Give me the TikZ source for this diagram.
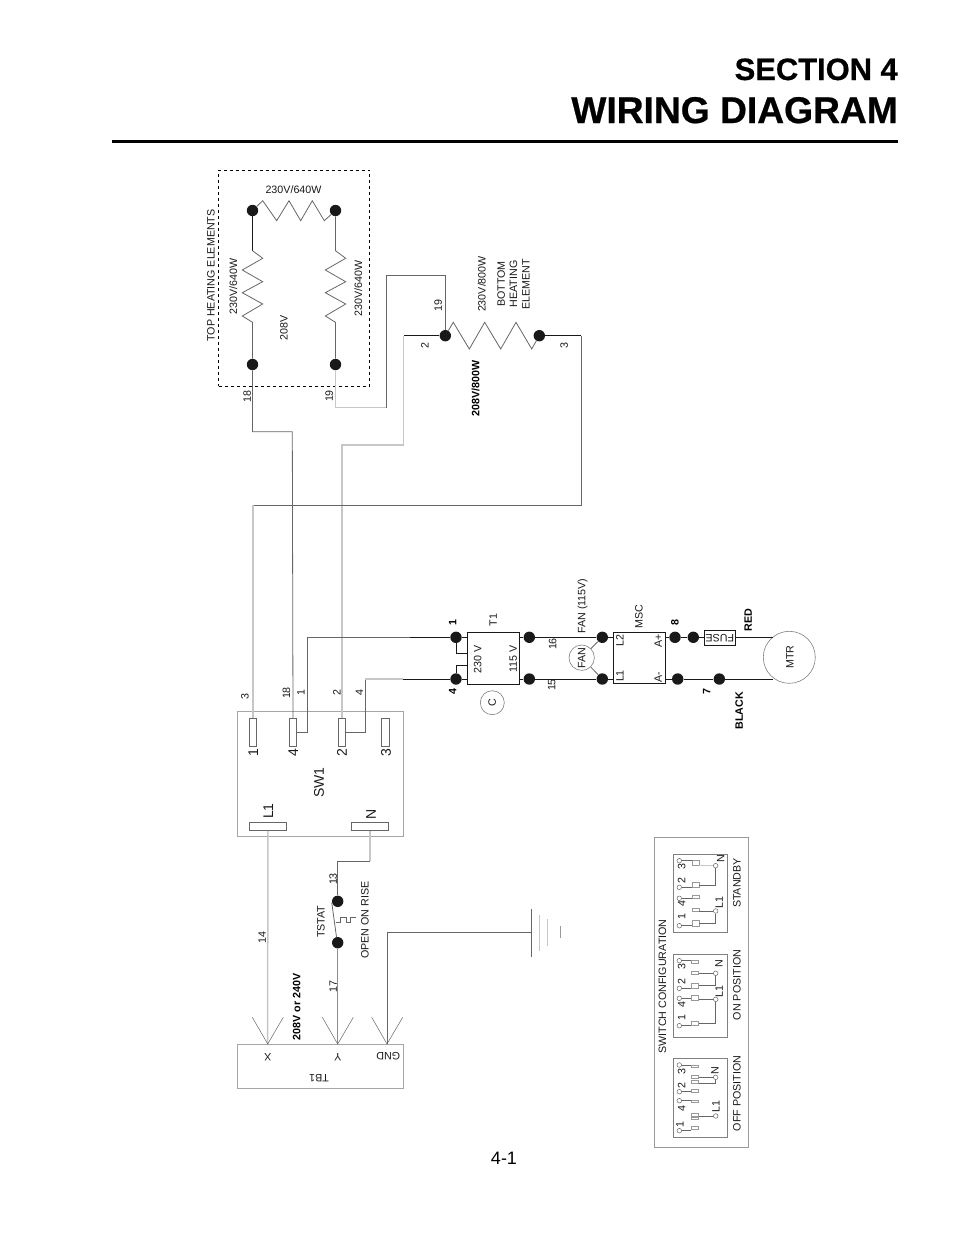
\documentclass[tikz,border=0pt]{standalone}
\usepackage{fontspec}
\setmainfont{Liberation Sans}
\newfontfamily\ttlfont[BoldFeatures={FakeBold=0.6}]{Liberation Sans}
\tikzset{
  wire/.style={draw=black!60,line width=0.8pt},
  pale/.style={draw=black!22,line width=1.5pt},
  dark/.style={draw=black!90,line width=0.9pt},
  blob/.style={circle,fill=black!90,inner sep=0pt,minimum size=11.4pt},
  ring/.style={circle,draw=black!60,line width=0.5pt,fill=white,inner sep=0pt,minimum size=4.6pt},
  box/.style={draw=black!60,line width=0.9pt,inner sep=0pt},
  blk/.style={draw=black!90,line width=0.9pt,inner sep=0pt},
  term/.style={box,fill=white},
  cont/.style={draw=black!40,line width=0.5pt,fill=white,inner sep=0pt,minimum width=7pt},
  lbl/.style={font=\fontsize{10.7}{12.4}\selectfont,text=black!90,inner sep=0pt,rotate=90,align=center},
  flat/.style={font=\fontsize{10.7}{12.4}\selectfont,text=black!90,inner sep=0pt,align=center},
  bld/.style={font=\fontsize{10.7}{12.4}\selectfont\bfseries,inner sep=0pt,rotate=90},
  big/.style={font=\fontsize{14}{16}\selectfont,text=black!90,inner sep=0pt,rotate=90},
}
\begin{document}
\begin{tikzpicture}[x=1pt,y=-1pt]
\useasboundingbox (0,0) rectangle (954,1235);
% heading
\node[anchor=base east,inner sep=0pt,font=\fontsize{30.9}{34}\selectfont\ttlfont\bfseries] (secttl) at (898,80) {SECTION 4};
\node[anchor=base east,inner sep=0pt,font=\fontsize{37.2}{40}\selectfont\ttlfont\bfseries] (wirttl) at (898,123) {WIRING DIAGRAM};
\coordinate (rulea) at (112,141.5);
\coordinate (ruleb) at (898,141.5);
\draw[line width=3pt] (rulea) -- (ruleb);
\node[inner sep=0pt,font=\fontsize{18}{20}\selectfont] (pageno) at (504,1158) {4-1};
% top heating elements
\node[draw=black,dashed,line width=0.7pt,inner sep=0pt,minimum width=151pt,minimum height=216pt] (topbox) at (294,278) {};
\node[blob] (topa) at (252.5,210.5) {};
\node[blob] (topb) at (335.5,210.5) {};
\node[blob] (topc) at (252.5,364.5) {};
\node[blob] (topd) at (335.5,364.5) {};
\draw[wire] (topa) -- (262.7,200.7) -- (276.7,220.7) -- (289,200.7) -- (300.7,220.7) -- (312.3,200.7) -- (324.3,220.7) -- (topb);
\draw[dark] (topa) -- (252.5,250.7);
\draw[wire] (252.5,250.7) -- (262.7,258.3) -- (242.3,270) -- (262.7,281.7) -- (242.3,292.7) -- (262.7,304) -- (242.3,316) -- (252.5,322.3) -- (topc);
\draw[wire] (topb) -- (335.5,250.7) -- (345.7,258.3) -- (325.3,270) -- (345.7,281.7) -- (325.3,292.7) -- (345.7,304) -- (325.3,316) -- (335.5,322.3) -- (topd);
\node[lbl] (topttl) at (211,275.5) {TOP HEATING ELEMENTS};
\node[flat] (toppw) at (293.5,189.5) {230V/640W};
\node[lbl] (leftpw) at (233.3,286.7) {230V/640W};
\node[lbl] (rightpw) at (358.3,288.3) {230V/640W};
\node[lbl] (midv) at (284,328.3) {208V};
% bottom heating element
\node[blob] (bota) at (445.3,335.7) {};
\node[blob] (botb) at (539.3,335.7) {};
\draw[wire] (bota) -- (453.3,322.3) -- (469.3,349) -- (484.7,322.3) -- (500.7,349) -- (516,322.3) -- (531.7,349) -- (botb);
\node[lbl] (botpw) at (481.7,284) {230V/800W};
\node[lbl] (botttl) at (513.5,284) {BOTTOM\\HEATING\\ELEMENT};
\node[bld] (botalt) at (475.7,388.3) {208V/800W};
% switch
\node[box,draw=black!35,minimum width=166pt,minimum height=125pt] (swbox) at (320.3,773.5) {};
\node[term,minimum width=7.4pt,minimum height=28pt] (swa) at (253,732.3) {};
\node[term,minimum width=7.4pt,minimum height=28pt] (swd) at (293,732.3) {};
\node[term,minimum width=7.4pt,minimum height=28pt] (swb) at (342,732.3) {};
\node[term,minimum width=7.4pt,minimum height=28pt] (swc) at (385.3,732.3) {};
\node[term,minimum width=37pt,minimum height=8.4pt] (swl) at (267.8,826.5) {};
\node[term,minimum width=37pt,minimum height=8.4pt] (swn) at (369.8,826.5) {};
\node[big] (swlba) at (253.3,752.5) {1};
\node[big] (swlbd) at (293.3,752.5) {4};
\node[big] (swlbb) at (342,752.5) {2};
\node[big] (swlbc) at (386,752.5) {3};
\node[big] (swttl) at (319,782.7) {SW1};
\node[big] (swlbl) at (268.3,811) {L1};
\node[big] (swlbn) at (371,814) {N};
% wires from the switch to the heaters
\draw[wire] (topc) -- (252.5,431.7) -- (292.3,431.7) -- (swd.north);
\draw[pale] (topd) -- (335.5,407.7) -- (386,407.7);
\draw[wire] (386,407.7) -- (386,275) -- (445.3,275) -- (bota);
\draw[dark] (bota) -- (403.7,335.7);
\draw[pale] (403.7,335.7) -- (403.7,445) -- (342,445) -- (swb.north);
\draw[dark] (botb) -- (581,335.7);
\draw[wire] (581,335.7) -- (581,505) -- (253,505);
\draw[pale] (253,505) -- (swa.north);
\node[lbl] (wa) at (247.3,396.7) {18};
\node[lbl] (wb) at (329.3,396) {19};
\node[lbl] (wc) at (438.3,305.7) {19};
\node[lbl] (wd) at (425,345.3) {2};
\node[lbl] (we) at (564.3,345.3) {3};
\node[lbl] (wf) at (245,697) {3};
\node[lbl] (wg) at (286.5,693) {18};
\node[lbl] (wh) at (301,693) {1};
\node[lbl] (wi) at (337,693) {2};
\node[lbl] (wj) at (359.5,693) {4};
% transformer, fan, speed control, motor
\node[blk,minimum width=52pt,minimum height=52pt] (trf) at (493.3,658.3) {};
\node[blk,minimum width=52pt,minimum height=51pt] (msc) at (639.3,657.8) {};
\node[blob] (rta) at (456,637.3) {};
\node[blob] (rba) at (456,679) {};
\node[blob] (rtb) at (529.3,637.3) {};
\node[blob] (rbb) at (529.3,679) {};
\node[blob] (rtc) at (602.3,637.3) {};
\node[blob] (rbc) at (602.3,679) {};
\node[blob] (rtd) at (675,637.3) {};
\node[blob] (rte) at (693.3,637.3) {};
\node[blob] (rbd) at (677.7,679) {};
\node[blob] (rbe) at (719.3,679) {};
\node[blk,minimum width=30.4pt,minimum height=15.4pt] (fuse) at (719.8,637.7) {};
\node[circle,draw=black!50,line width=0.6pt,inner sep=0pt,minimum size=52pt] (mtr) at (789.3,657.3) {};
\node[circle,draw=black!50,line width=0.6pt,inner sep=0pt,minimum size=25.4pt] (fan) at (581.7,657.7) {};
\node[circle,draw=black!50,line width=0.6pt,inner sep=0pt,minimum size=24pt] (cap) at (492.3,702.7) {};
\draw[wire] (swd.east |- 0,732.3) -- (307.7,732.3) -- (307.7,637.3) -- (410,637.3);
\draw[dark] (410,637.3) -- (rta);
\draw[wire] (swb.east |- 0,732.3) -- (365.3,732.3) -- (365.3,679);
\draw[pale] (365.3,679) -- (403,679);
\draw[dark] (403,679) -- (rba);
\draw[dark] (rta) -- (rta |- 0,653.3) -- (trf.west |- 0,653.3);
\draw[dark] (rba) -- (rba |- 0,665.3) -- (trf.west |- 0,665.3);
\draw[dark] (rta) -- (trf.west |- rta);
\draw[dark] (rba) -- (trf.west |- rba);
\draw[dark] (trf.east |- rtb) -- (rtb) -- (rtc) -- (msc.west |- rtc);
\draw[dark] (trf.east |- rbb) -- (rbb) -- (rbc) -- (msc.west |- rbc);
\draw[wire] (rtc) -- (fan);
\draw[wire] (rbc) -- (fan);
\draw[dark] (msc.east |- rtd) -- (rtd) -- (rte) -- (fuse.west |- rte);
\draw[dark] (msc.east |- rbd) -- (rbd) -- (rbe);
\draw[dark] (fuse.east |- rte) -- (773.3,637.3);
\draw[dark] (rbe) -- (773.3,679);
\node[bld] (rla) at (452.7,622.7) {1};
\node[bld] (rlb) at (452.7,691.7) {4};
\node[lbl] (trfttl) at (493.3,620) {T1};
\node[lbl] (trfhi) at (477.7,659.3) {230 V};
\node[lbl] (trflo) at (513.3,659.3) {115 V};
\node[lbl] (capl) at (492.3,702.7) {C};
\node[lbl] (rlc) at (552.7,644) {16};
\node[lbl] (rld) at (551.7,685) {15};
\node[lbl] (fanv) at (582.7,606) {FAN (115V)};
\node[lbl] (fanl) at (581.7,657.7) {FAN};
\node[lbl] (mscttl) at (639,616.7) {MSC};
\node[lbl] (msca) at (620,640.7) {L2};
\node[lbl] (mscb) at (620,676) {L1};
\node[lbl] (mscc) at (658.3,640.7) {A+};
\node[lbl] (mscd) at (658.3,677.3) {A-};
\node[bld] (rle) at (675,622.7) {8};
\node[bld] (rlf) at (706.7,691.7) {7};
\node[flat,rotate=180] (fusel) at (719.8,637.7) {FUSE};
\node[bld] (redl) at (748.3,620) {RED};
\node[bld] (blkl) at (739.3,710.7) {BLACK};
\node[lbl] (mtrl) at (790,657.3) {MTR};
% thermostat and terminal block
\node[blob] (tsa) at (337.7,901.3) {};
\node[blob] (tsb) at (337.7,942.7) {};
\node[box,draw=black!35,minimum width=166pt,minimum height=44pt] (tbox) at (320.3,1066) {};
\coordinate (tipx) at (267.7,1044);
\coordinate (tipy) at (337.7,1044);
\coordinate (tipg) at (387,1044);
\draw[pale] (swl.south) -- (tipx);
\draw[pale] (swn.south) -- (369.8,861);
\draw[wire] (369.8,861) -- (337.7,861) -- (tsa);
\draw[wire] (tsa) -- (tsa.west |- 0,903) -- (336.5,937);
\draw[wire] (335.7,922.3) -- (340.7,922.3) -- (340.7,917.3) -- (346.7,917.3) -- (346.7,922.3) -- (350.7,922.3) -- (350.7,917.3) -- (355.7,917.3);
\draw[wire] (336.5,937) -- (tsb);
\draw[pale,draw=black!45] (tsb) -- (tipy);
\draw[wire] (tipg) -- (387,932) -- (531.7,932);
\draw[wire,line width=0.5pt] (252.3,1017.3) -- (tipx) -- (283.3,1017.3);
\draw[wire,line width=0.5pt] (322.3,1017.3) -- (tipy) -- (353.3,1017.3);
\draw[wire,line width=0.5pt] (371.7,1017.3) -- (tipg) -- (402.7,1017.3);
\draw[wire] (531.7,909.3) -- (531.7,956.7);
\draw[pale,line width=1pt] (539.3,915) -- (539.3,950.7);
\draw[pale,line width=1pt] (547.7,919.3) -- (547.7,946);
\draw[pale,draw=black!40,line width=0.8pt] (560,926) -- (560,937.7);
\node[lbl] (wk) at (262.3,937.3) {14};
\node[lbl] (wl) at (333.3,879) {13};
\node[lbl] (wm) at (333.3,986.7) {17};
\node[lbl] (tsttl) at (321,921.7) {TSTAT};
\node[lbl] (tsnote) at (365,920) {OPEN ON RISE};
\node[bld] (tbv) at (296.7,1006.7) {208V or 240V};
\node[flat,rotate=180] (tbx) at (267.7,1057.3) {X};
\node[flat,rotate=180] (tby) at (337.7,1057.3) {Y};
\node[flat,rotate=180] (tbg) at (388.3,1056) {GND};
\node[flat,rotate=180] (tbttl) at (319,1078.3) {TB1};
% switch configuration
\node[box,draw=black!40,minimum width=94pt,minimum height=310pt] (cfgbox) at (701,992) {};
\node[box,draw=black!50,minimum width=54pt,minimum height=78pt] (sbbox) at (700.3,893) {};
\node[box,draw=black!50,minimum width=54pt,minimum height=83pt] (onbox) at (700.3,995.7) {};
\node[box,draw=black!50,minimum width=54pt,minimum height=79pt] (ofbox) at (700.3,1098) {};
\node[lbl] (cfgttl) at (662.5,986.5) {SWITCH CONFIGURATION};
\node[lbl] (sbttl) at (737,883) {STANDBY};
\node[lbl] (onttl) at (737,985) {ON POSITION};
\node[lbl] (ofttl) at (737,1093.3) {OFF POSITION};
% standby
\node[ring] (sbc3) at (679.3,860.7) {};
\node[ring] (sbc2) at (679.3,887.3) {};
\node[ring] (sbc4) at (679.3,898.3) {};
\node[ring] (sbc1) at (679.3,925.7) {};
\node[ring] (sbcn) at (715.7,865.7) {};
\node[ring] (sbcl) at (715.7,911) {};
\node[cont,minimum height=5pt] (sbr3) at (695.3,863) {};
\node[cont,minimum height=4.6pt] (sbr2) at (695.3,885) {};
\node[cont,minimum height=2.7pt] (sbr4) at (695.3,897) {};
\node[cont,minimum height=2.7pt] (sbrl) at (695.3,910) {};
\node[cont,minimum height=6pt] (sbr1) at (695.3,923.7) {};
\draw[wire,line width=0.6pt] (sbc3) -- (sbc3 -| sbr3.west);
\draw[wire,line width=0.6pt] (sbc2) -- (sbc2 -| sbr2.west);
\draw[wire,line width=0.6pt] (sbc4) -- (sbc4 -| sbr4.west);
\draw[wire,line width=0.6pt] (sbc1) -- (sbc1 -| sbr1.west);
\draw[pale,line width=0.7pt] (sbcn) -- (sbcn -| sbr3.east);
\draw[wire,line width=0.7pt] (sbcn) -- (sbcn |- sbr2) -- (sbr2.east);
\draw[wire,line width=0.6pt] (sbcl) -- (sbcl -| sbrl.east);
\draw[wire,line width=0.7pt] (sbcl) -- (sbcl |- sbr1) -- (sbr1.east);
\node[lbl] (sbl3) at (681.7,866.7) {3};
\node[lbl] (sbl2) at (681.7,880.7) {2};
\node[lbl] (sbl4) at (681.7,904) {4};
\node[lbl] (sbl1) at (681.7,916.7) {1};
\node[lbl] (sbln) at (720.7,858.3) {N};
\node[lbl] (sbll) at (719.3,902.7) {L1};
% on position
\node[ring] (onc3) at (679.3,960.7) {};
\node[ring] (onc2) at (679.3,988.3) {};
\node[ring] (onc4) at (679.3,998.3) {};
\node[ring] (onc1) at (679.3,1025.7) {};
\node[ring] (oncn) at (715.7,973.3) {};
\node[ring] (oncl) at (715.7,999.3) {};
\node[cont,minimum height=2.7pt] (onr3) at (695,962) {};
\node[cont,minimum height=2.3pt] (onrn) at (695,972.8) {};
\node[cont,minimum height=5pt] (onr2) at (695,985.8) {};
\node[cont,minimum height=5pt] (onr4) at (695,997.5) {};
\node[cont,minimum height=4.7pt] (onr1) at (695,1023.3) {};
\draw[wire,line width=0.6pt] (onc3) -- (onc3 -| onr3.west);
\draw[wire,line width=0.6pt] (onc2) -- (onc2 -| onr2.west);
\draw[wire,line width=0.6pt] (onc4) -- (onc4 -| onr4.west);
\draw[wire,line width=0.6pt] (onc1) -- (onc1 -| onr1.west);
\draw[wire,line width=0.6pt] (oncn) -- (oncn -| onrn.east);
\draw[wire,line width=0.7pt] (oncn) -- (oncn |- onr2) -- (onr2.east);
\draw[wire,line width=0.6pt] (oncl) -- (oncl -| onr4.east);
\draw[wire,line width=0.7pt] (oncl) -- (oncl |- onr1) -- (onr1.east);
\node[lbl] (onl3) at (681.7,966.7) {3};
\node[lbl] (onl2) at (681.7,981.7) {2};
\node[lbl] (onl4) at (681.7,1005) {4};
\node[lbl] (onl1) at (681.7,1017.3) {1};
\node[lbl] (onln) at (719,964) {N};
\node[lbl] (onll) at (719.3,991.7) {L1};
% off position
\node[ring] (ofc3) at (679.3,1065) {};
\node[ring] (ofc2) at (679.3,1091.7) {};
\node[ring] (ofc4) at (679.3,1100.7) {};
\node[ring] (ofc1) at (679.3,1130.7) {};
\node[ring] (ofcn) at (715.7,1077.3) {};
\node[ring] (ofcl) at (715.7,1116) {};
\node[cont,minimum height=2.7pt] (ofr3) at (695,1066.3) {};
\node[cont,minimum height=3.3pt] (ofrn) at (695,1076.7) {};
\node[cont,minimum height=3.3pt] (ofrm) at (695,1081.7) {};
\node[cont,minimum height=3pt] (ofr2) at (695,1090.8) {};
\node[cont,minimum height=2.3pt] (ofr4) at (695,1101) {};
\node[cont,minimum height=2.7pt] (ofrl) at (695,1114.7) {};
\node[cont,minimum height=2.3pt] (ofrk) at (695,1118) {};
\node[cont,minimum height=3.3pt] (ofr1) at (695,1128) {};
\draw[wire,line width=0.6pt] (ofc3) -- (ofc3 -| ofr3.west);
\draw[wire,line width=0.6pt] (ofc2) -- (ofc2 -| ofr2.west);
\draw[wire,line width=0.6pt] (ofc4) -- (ofc4 -| ofr4.west);
\draw[wire,line width=0.6pt] (ofc1) -- (ofc1 -| ofr1.west);
\draw[wire,line width=0.6pt] (ofcn) -- (ofcn -| ofrn.east);
\draw[wire,line width=0.7pt] (ofcn) -- (ofcn |- 0,1083.3) -- (ofrm.east |- 0,1083.3);
\draw[wire,line width=0.6pt] (ofcl) -- (ofcl -| ofrl.east);
\node[lbl] (ofl3) at (681.7,1071.7) {3};
\node[lbl] (ofl2) at (681.7,1085.7) {2};
\node[lbl] (ofl4) at (681.7,1109) {4};
\node[lbl] (ofl1) at (680,1124.3) {1};
\node[lbl] (ofln) at (715,1071) {N};
\node[lbl] (ofll) at (716,1106.7) {L1};
\end{tikzpicture}
\end{document}
